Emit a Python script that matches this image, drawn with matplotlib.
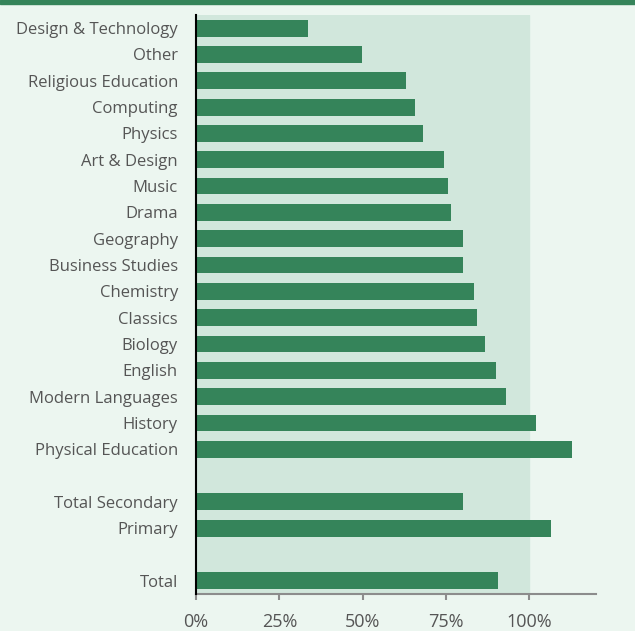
import matplotlib
matplotlib.use("Agg")
import matplotlib.pyplot as plt
from matplotlib.patches import Rectangle

categories = ["Design & Technology", "Other", "Religious Education", "Computing", "Physics",
              "Art & Design", "Music", "Drama", "Geography", "Business Studies", "Chemistry",
              "Classics", "Biology", "English", "Modern Languages", "History",
              "Physical Education", "", "Total Secondary", "Primary", "", "Total"]
values = [33.6, 49.8, 63.0, 65.8, 68.0, 74.5, 75.7, 76.6, 80.2, 80.2, 83.5, 84.4, 86.8,
          90.0, 93.0, 102.0, 112.8, None, 80.2, 106.6, None, 90.7]
xticks = [0, 25, 50, 75, 100]
xticklabels = ["0%", "25%", "50%", "75%", "100%"]

plt.rcParams['font.family'] = ['Open Sans', 'DejaVu Sans']
bg = "#ecf6f0"
shade = "#d1e7dc"
bar_c = "#35845a"
txt = "#555555"

fig = plt.figure(figsize=(6.35, 6.31), dpi=100, facecolor=bg)
ax = fig.add_axes([196/635, 37/631, 400/635, (594-15)/631])
ax.set_facecolor(bg)

n = len(categories)
ax.axvspan(0, 100, color=shade, zorder=0)
ys = [i for i, v in enumerate(values) if v is not None]
vs = [v for v in values if v is not None]
ax.barh(ys, vs, height=0.64, color=bar_c, zorder=2)

ax.set_ylim(n - 0.5, -0.5)
ax.set_xlim(0, 120)
ax.set_yticks(range(n))
ax.set_yticklabels(categories, fontsize=12, color=txt)
ax.tick_params(axis='y', length=0, pad=13)
ax.set_xticks(xticks)
ax.set_xticklabels(xticklabels, fontsize=13, color=txt)
ax.tick_params(axis='x', length=4, width=1.5, color="#8c8c8c", pad=10)

for s in ["top", "right"]:
    ax.spines[s].set_visible(False)
ax.spines["left"].set_color("black")
ax.spines["left"].set_linewidth(1.5)
ax.spines["left"].set_zorder(3)
ax.spines["bottom"].set_color("#8c8c8c")
ax.spines["bottom"].set_linewidth(1.5)

fig.patches.append(Rectangle((0, 1 - 4/631), 1, 4/631, transform=fig.transFigure,
                             color=bar_c, zorder=5))

fig.savefig("out.png", dpi=100, facecolor=bg)
